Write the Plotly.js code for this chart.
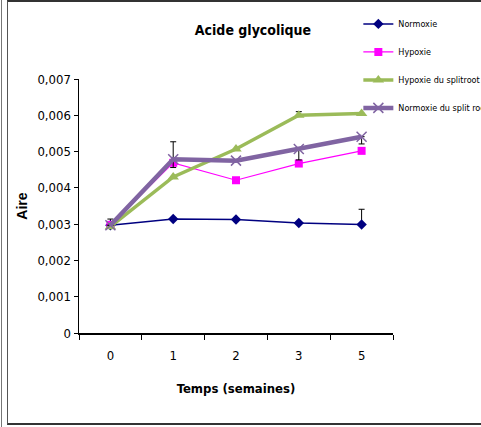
<!DOCTYPE html>
<html><head><meta charset="utf-8">
<script src="https://cdn.plot.ly/plotly-3.0.1.min.js"></script>
<style>
html,body{margin:0;padding:0;background:#fff;}
#wrap{position:relative;width:481px;height:427px;overflow:hidden;}
#frame{position:absolute;left:7px;top:0;width:474px;height:421px;border-left:1px solid #555;border-top:2px solid #333;border-bottom:2px solid #333;}
#lline{position:absolute;left:1px;top:0;width:1px;height:427px;background:#777;}
#chart{position:absolute;left:0;top:0;width:481px;height:427px;}
</style></head>
<body><div id="wrap"><div id="chart"></div><div id="frame"></div><div id="lline"></div></div>
<script>
const categories = ['0','1','2','3','5'];
const normoxie = [0.00297, 0.00314, 0.00313, 0.00303, 0.00299];
const hypoxie = [0.00298, 0.00469, 0.00421, 0.00467, 0.00502];
const hypoxieSplit = [0.00293, 0.00430, 0.00507, 0.00600, 0.00605];
const normoxieSplit = [0.00297, 0.00479, 0.00475, 0.00507, 0.00541];
const normoxieErr = [0.00017, 0, 0, 0, 0.00042];
const hypoxieSplitErr = [0, 0, 0, 0.00010, 0];
const normoxieSplitErrPlus = [0, 0.00048, 0, 0, 0];
const normoxieSplitErrMinus = [0, 0.00023, 0, 0.00030, 0.00020];
const zeros = [0, 0, 0, 0, 0];
const yTickVals = [0, 0.001, 0.002, 0.003, 0.004, 0.005, 0.006, 0.007];
const yTickText = ['0','0,001','0,002','0,003','0,004','0,005','0,006','0,007'];

const narrow = 'Liberation Sans Narrow, Arial Narrow, DejaVu Sans Condensed, sans-serif';

const traces = [
 {name:'Normoxie', x:categories, y:normoxie, mode:'lines+markers', legendgroup:'a',
  line:{color:'#000080', width:1.5}, marker:{symbol:'diamond', size:8, color:'#000080'},
  error_y:{type:'data', array:normoxieErr, arrayminus:zeros, symmetric:false, color:'#000', thickness:1, width:3}},
 {name:'Hypoxie', x:categories, y:hypoxie, mode:'lines+markers', legendgroup:'b',
  line:{color:'#FF00FF', width:1.2}, marker:{symbol:'square', size:8, color:'#FF00FF'}},
 {name:'Hypoxie du splitroot', x:categories, y:hypoxieSplit, mode:'lines+markers', legendgroup:'c',
  line:{color:'#9BBB59', width:3.5}, marker:{symbol:'triangle-up', size:10, color:'#9BBB59'},
  error_y:{type:'data', array:hypoxieSplitErr, arrayminus:zeros, symmetric:false, color:'#000', thickness:1, width:3}},
 {name:'Normoxie du split root', x:categories, y:normoxieSplit, mode:'lines+markers', legendgroup:'d',
  line:{color:'#8064A2', width:4.5}, marker:{symbol:'x-thin', size:10, color:'#8064A2', line:{color:'#8064A2', width:1.5}},
  error_y:{type:'data', array:normoxieSplitErrPlus, arrayminus:normoxieSplitErrMinus, symmetric:false, color:'#000', thickness:1, width:3}}
];

const layout = {
 width:481, height:427,
 margin:{l:79, r:88, t:79, b:94, autoexpand:false},
 paper_bgcolor:'rgba(0,0,0,0)', plot_bgcolor:'rgba(0,0,0,0)',
 font:{family:narrow, color:'#000', size:13},
 title:{text:'<b>Acide glycolique</b>', font:{family:narrow, size:14, color:'#000'}, xref:'container', x:0.526, xanchor:'center', yref:'container', y:0.93, yanchor:'middle'},
 showlegend:true,
 legend:{xref:'container', yref:'container', x:0.745, xanchor:'left', y:0.978, yanchor:'top', font:{family:narrow, size:9, color:'#000'}, bgcolor:'rgba(0,0,0,0)', tracegroupgap:9, itemwidth:30},
 xaxis:{type:'category', range:[-0.5,4.5], tickson:'boundaries', ticks:'outside', ticklen:5, tickcolor:'#000', showline:true, linecolor:'#000', linewidth:1.5, showgrid:false, zeroline:false, tickfont:{family:narrow, size:13}, ticklabelstandoff:10,
   title:{text:'<b>Temps (semaines)</b>', font:{family:narrow, size:13}, standoff:22}, fixedrange:true},
 yaxis:{range:[0,0.007], tickvals:yTickVals, ticktext:yTickText, ticks:'outside', ticklen:4, tickcolor:'#000', showline:true, linecolor:'#000', linewidth:1.5, showgrid:false, zeroline:false, tickfont:{family:narrow, size:13},
   title:{text:'<b>Aire</b>', font:{family:'Liberation Sans, Arial, sans-serif', size:14}, standoff:6}}
};
Plotly.newPlot('chart', traces, layout, {displayModeBar:false, staticPlot:true});
</script></body></html>
